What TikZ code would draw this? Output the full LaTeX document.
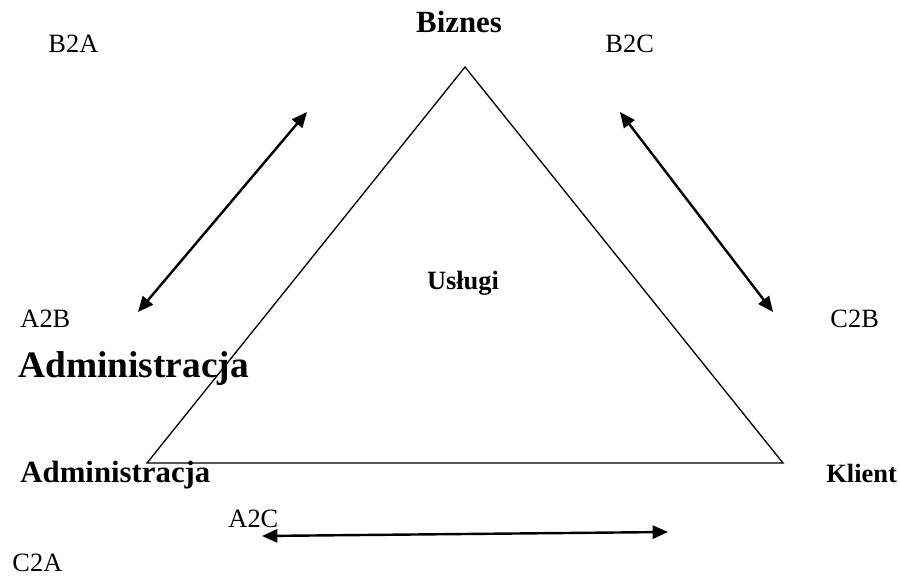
\documentclass[tikz,border=0pt]{standalone}
\usepackage{fontspec}
\setmainfont{Liberation Serif}
\usepackage{tikz}
\usetikzlibrary{arrows.meta,positioning}
\tikzset{
  lbl/.style={anchor=base west, inner sep=0pt, font=\fontsize{12}{14}\selectfont},
  blbl/.style={lbl, font=\fontsize{12}{14}\selectfont\bfseries},
  hlbl/.style={lbl, font=\fontsize{14}{16}\selectfont\bfseries},
  link/.style={{Triangle[length=7pt,width=6pt]}-{Triangle[length=7pt,width=6pt]}, line width=1.1pt}
}

\begin{document}
\begin{tikzpicture}[x=0.4545pt, y=-0.4545pt, every node/.style={font=\small}]
  \useasboundingbox (0,0) rectangle (900,576);
  % triangle corners
  \coordinate (biz) at (465,67);
  \coordinate (adm) at (147,463);
  \coordinate (kli) at (783,463);
  \draw[line width=0.6pt] (biz) -- (adm) -- (kli) -- cycle;
  % labels
  \node[hlbl, anchor=base] (tbiz) at (459,33) {Biznes};
  \node[blbl, anchor=base] (tusl) at (463,290) {Usługi};
  \node[hlbl] (tadm) at (20,482) {Administracja};
  \node[blbl] (tkli) at (826,482) {Klient};
  \node[lbl, font=\fontsize{17}{19}\selectfont\bfseries] (tadmbig) at (18,378) {Administracja};
  \node[lbl] (b2a) at (48,53) {B2A};
  \node[lbl] (b2c) at (605,53) {B2C};
  \node[lbl] (a2b) at (20,328) {A2B};
  \node[lbl] (c2b) at (830,328) {C2B};
  \node[lbl] (a2c) at (228,527) {A2C};
  \node[lbl] (c2a) at (12,571) {C2A};
  % arrow ends
  \coordinate (ba1) at (138,312);
  \coordinate (ba2) at (307,112);
  \coordinate (bc1) at (620,112);
  \coordinate (bc2) at (773,312);
  \coordinate (ac1) at (262,536);
  \coordinate (ac2) at (668,532);
  \draw[link] (ba1) -- (ba2);
  \draw[link] (bc1) -- (bc2);
  \draw[link] (ac1) -- (ac2);
\end{tikzpicture}
\end{document}
